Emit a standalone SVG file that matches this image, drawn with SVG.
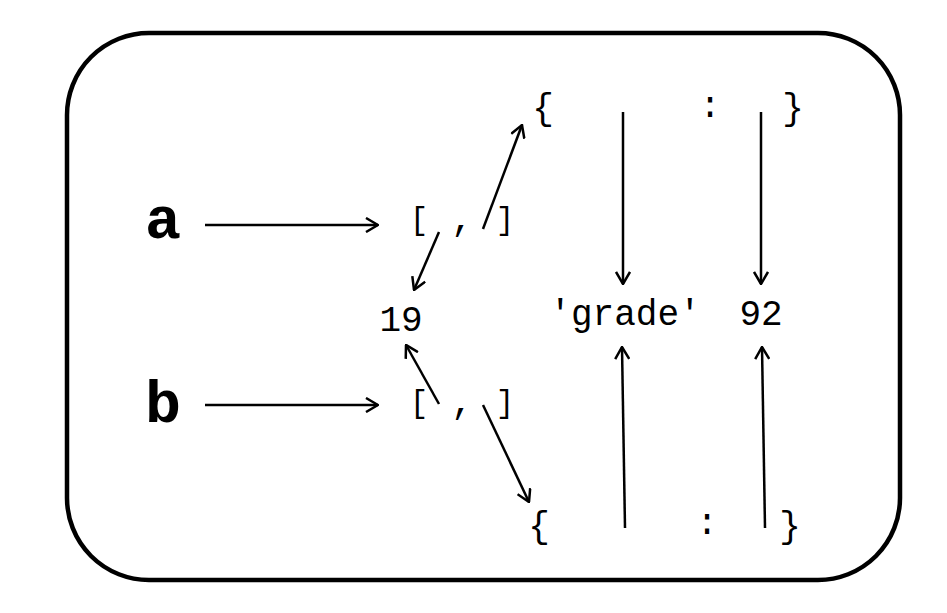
<svg xmlns="http://www.w3.org/2000/svg" width="947" height="613" viewBox="0 0 947 613">
<style>
.t{font-family:"Liberation Mono","Courier New",monospace;font-size:36px;fill:#000;text-anchor:middle}
.b{font-size:31px}
.v{font-family:"Liberation Mono","Courier New",monospace;font-size:60px;font-weight:bold;fill:#000;text-anchor:middle}
.c{stroke:#000;stroke-width:2.5;fill:none;marker-end:url(#ah)}
</style>
<defs>
<marker id="ah" markerUnits="userSpaceOnUse" viewBox="0 0 14 16" refX="13" refY="8" markerWidth="14" markerHeight="16" orient="auto">
<path d="M1,1 L13,8 L1,15" fill="none" stroke="#000" stroke-width="2.5"/>
</marker>
</defs>
<rect x="67" y="33" width="833" height="547" rx="82" ry="82" fill="#fff" stroke="#000" stroke-width="4.5"/>
<g id="var-a"><text class="v" x="163" y="238">a</text></g>
<g id="var-b"><text class="v" x="163" y="422">b</text></g>
<g id="list-a"><text class="t b" x="419" y="229">[</text><text class="t" x="462" y="230">,</text><text class="t b" x="505" y="229">]</text></g>
<g id="list-b"><text class="t b" x="419" y="412">[</text><text class="t" x="462" y="413">,</text><text class="t b" x="505" y="412">]</text></g>
<g id="n19"><text class="t" x="401" y="331">19</text></g>
<g id="grade"><text class="t" x="625" y="325">'grade'</text></g>
<g id="n92"><text class="t" x="761" y="325">92</text></g>
<g id="dict-top"><text class="t" x="543" y="119">{</text><text class="t" x="710" y="117">:</text><text class="t" x="793" y="119">}</text></g>
<g id="dict-bottom"><text class="t" x="539" y="537">{</text><text class="t" x="707" y="534">:</text><text class="t" x="790" y="537">}</text></g>
<g id="connectors">
<line class="c" x1="205" y1="225" x2="378" y2="225"/>
<line class="c" x1="205" y1="405" x2="378" y2="405"/>
<line class="c" x1="439" y1="232" x2="414" y2="290"/>
<line class="c" x1="483" y1="229" x2="522" y2="125"/>
<line class="c" x1="439" y1="404" x2="406" y2="345"/>
<line class="c" x1="483" y1="405" x2="529" y2="502"/>
<line class="c" x1="623" y1="112" x2="623" y2="284"/>
<line class="c" x1="761" y1="112" x2="761" y2="284"/>
<line class="c" x1="625" y1="528" x2="622" y2="347"/>
<line class="c" x1="765" y1="528" x2="762" y2="347"/>
</g>
</svg>
